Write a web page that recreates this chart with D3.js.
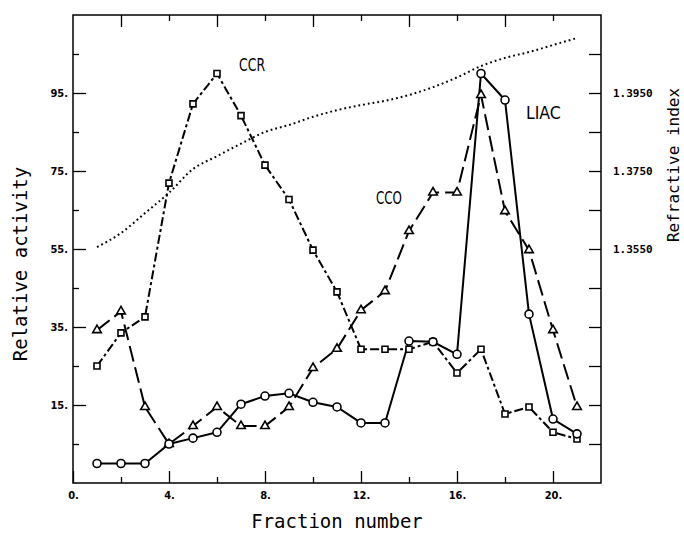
<!DOCTYPE html>
<html>
<head>
<meta charset="utf-8">
<script src="https://cdn.jsdelivr.net/npm/d3@7"></script>
<style>
  body { margin: 0; background: #fff; }
  .tick text { font-family: "DejaVu Sans Condensed", "DejaVu Sans", sans-serif; font-weight: bold; font-size: 11px; }
</style>
</head>
<body>
<div id="chart"></div>
<script>
// fraction numbers and series
var fractions = d3.range(1, 22);
var liac = [0, 0, 0, 5, 6.5, 8, 15.2, 17.3, 18, 15.7, 14.5, 10.4, 10.4, 31.4, 31.2, 28, 100, 93.2, 38.3, 11.4, 7.6];
var ccr = [25, 33.5, 37.6, 71.9, 92.2, 100, 89.2, 76.5, 67.7, 54.7, 44, 29.3, 29.3, 29.3, 31.2, 23.2, 29.3, 12.7, 14.5, 8, 6.3];
var cco = [34.2, 39, 14.5, 5, 9.6, 14.5, 9.6, 9.6, 14.5, 24.5, 29.4, 39.3, 44.2, 59.6, 69.5, 69.5, 94.5, 64.7, 54.7, 34.2, 14.5];
var refIndex = [1.3555, 1.3591, 1.3642, 1.3694, 1.3755, 1.3788, 1.3820, 1.3850, 1.3868, 1.3889, 1.3906, 1.3919, 1.3930, 1.3945, 1.3965, 1.3990, 1.4019, 1.4040, 1.4055, 1.4073, 1.4091];

var xMajor = [0, 4, 8, 12, 16, 20];
var yMajor = [15, 35, 55, 75, 95];
var yMinor = [5, 25, 45, 65, 85, 105];
var riLabels = [1.355, 1.375, 1.395];
var riTicks = d3.range(1.305, 1.41, 0.01);

var margin = {top: 15, right: 83, bottom: 50, left: 73};
var width = 684 - margin.left - margin.right;
var height = 533 - margin.top - margin.bottom;

var svg = d3.select("#chart").append("svg")
    .attr("width", 684).attr("height", 533)
  .append("g")
    .attr("transform", "translate(" + margin.left + "," + margin.top + ")");

var x = d3.scaleLinear().domain([0, 22]).range([0, width]);
var y = d3.scaleLinear().domain([-5, 115]).range([height, 0]);
var yR = d3.scaleLinear().domain([1.295, 1.415]).range([height, 0]);

// axes, ticks pointing into the plot
function noDomain(g) { g.select(".domain").remove(); g.selectAll(".tick line").attr("stroke", "#000").attr("stroke-width", 1.3); }

svg.append("g").attr("transform", "translate(0," + height + ")")
    .call(d3.axisBottom(x).tickValues(xMajor).tickSize(-12).tickPadding(8).tickFormat(function (d) { return d + "."; }))
    .call(noDomain);
svg.append("g").attr("transform", "translate(0," + height + ")")
    .call(d3.axisBottom(x).tickValues([2, 6, 10, 14, 18]).tickSize(-6).tickFormat(""))
    .call(noDomain);
svg.append("g")
    .call(d3.axisTop(x).tickValues([2, 6, 10, 14, 18]).tickSize(-12).tickFormat(""))
    .call(noDomain);
svg.append("g")
    .call(d3.axisTop(x).tickValues([4, 8, 12, 16, 20]).tickSize(-6).tickFormat(""))
    .call(noDomain);
svg.append("g")
    .call(d3.axisLeft(y).tickValues(yMajor).tickSize(-13).tickPadding(5).tickFormat(function (d) { return d + "."; }))
    .call(noDomain);
svg.append("g")
    .call(d3.axisLeft(y).tickValues(yMinor).tickSize(-6).tickFormat(""))
    .call(noDomain);
svg.append("g").attr("transform", "translate(" + width + ",0)")
    .call(d3.axisRight(yR).tickValues(riTicks).tickSize(-12).tickFormat(""))
    .call(noDomain);
svg.append("g").attr("transform", "translate(" + width + ",0)")
    .call(d3.axisRight(yR).tickValues(riLabels).tickSize(0).tickPadding(12).tickFormat(d3.format(".4f")))
    .call(noDomain)
    .selectAll("text").style("font-family", "'DejaVu Sans Mono', monospace").style("font-size", "11px");

svg.append("rect").attr("width", width).attr("height", height)
    .attr("fill", "none").attr("stroke", "#000").attr("stroke-width", 1.5);

// refractive index, dotted
var riLine = d3.line().x(function (d, i) { return x(fractions[i]); }).y(function (d) { return yR(d); }).curve(d3.curveMonotoneX);
svg.append("path").datum(refIndex).attr("d", riLine)
    .attr("fill", "none").attr("stroke", "#000").attr("stroke-width", 2)
    .attr("stroke-dasharray", "1.8,3");

var series = [
  {name: "CCR", values: ccr, dash: "9,3,3,3", symbol: d3.symbolSquare, size: 36},
  {name: "CCO", values: cco, dash: "16,6", symbol: d3.symbolTriangle, size: 32},
  {name: "LIAC", values: liac, dash: null, symbol: d3.symbolCircle, size: 50}
];

var line = d3.line().x(function (d, i) { return x(fractions[i]); }).y(function (d) { return y(d); });

series.forEach(function (s) {
    svg.append("path").datum(s.values).attr("d", line)
        .attr("fill", "none").attr("stroke", "#000").attr("stroke-width", 2)
        .attr("stroke-dasharray", s.dash);
});
series.forEach(function (s) {
    svg.selectAll(null).data(s.values).enter().append("path")
        .attr("transform", function (d, i) { return "translate(" + x(fractions[i]) + "," + y(d) + ")"; })
        .attr("d", d3.symbol().type(s.symbol).size(s.size))
        .attr("fill", "#fff").attr("stroke", "#000").attr("stroke-width", 1.6);
});

// series labels
var notes = [
  {text: "CCR", f: 6.92, v: 100.6, len: 26},
  {text: "CCO", f: 12.62, v: 66.5, len: 26},
  {text: "LIAC", f: 18.87, v: 88.3, len: 35}
];
svg.selectAll(null).data(notes).enter().append("text")
    .attr("x", function (d) { return x(d.f); })
    .attr("y", function (d) { return y(d.v); })
    .attr("textLength", function (d) { return d.len; })
    .attr("lengthAdjust", "spacingAndGlyphs")
    .style("font-family", "'DejaVu Sans', sans-serif").style("font-size", "17px")
    .text(function (d) { return d.text; });

// axis titles
svg.append("text")
    .attr("transform", "translate(" + (-46) + "," + (height / 2 + 15) + ") rotate(-90)")
    .style("text-anchor", "middle").style("font-family", "'DejaVu Sans Mono', monospace").style("font-size", "19px")
    .text("Relative activity");
svg.append("text")
    .attr("x", width / 2).attr("y", height + 45)
    .style("text-anchor", "middle").style("font-family", "'DejaVu Sans Mono', monospace").style("font-size", "19px")
    .text("Fraction number");
svg.append("text")
    .attr("transform", "translate(" + (width + 78) + "," + 150 + ") rotate(-90)")
    .style("text-anchor", "middle").style("font-family", "'DejaVu Sans Mono', monospace").style("font-size", "16px")
    .text("Refractive index");
</script>
</body>
</html>
